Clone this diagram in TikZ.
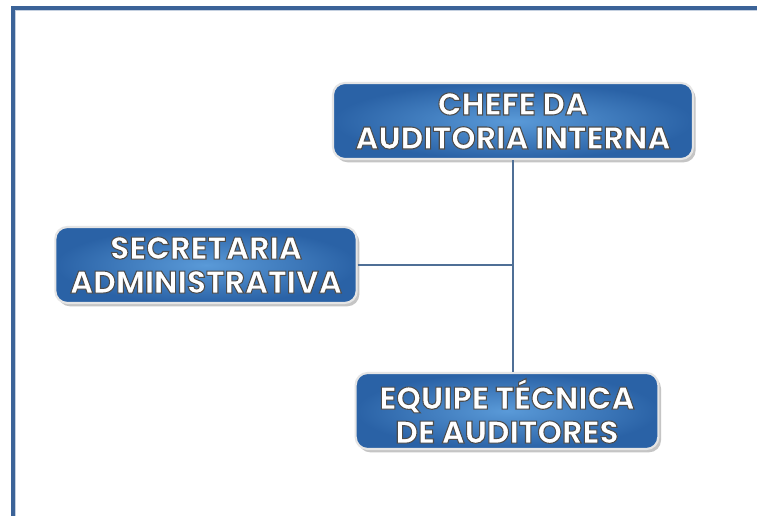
\documentclass[tikz,border=0pt]{standalone}
\usepackage{fontspec}
\setmainfont{Poppins}
\usetikzlibrary{shadows}
\definecolor{frameblue}{HTML}{3B6398}
\definecolor{boxin}{HTML}{5A9AD8}
\definecolor{boxout}{HTML}{2A62A6}
\definecolor{linecol}{HTML}{4F6F96}
\newcommand{\btxt}[1]{\special{pdf:literal direct 2 Tr 0.8 w 0.3 0.3 0.3 RG}#1\special{pdf:literal direct 0 Tr}}
\tikzset{
  orgbox/.style={draw=white!80!gray, line width=1.6pt, rounded corners=9pt,
    inner color=boxin, outer color=boxout,
    drop shadow={shadow xshift=2pt, shadow yshift=-2.5pt, fill=black!45, opacity=0.5},
    align=center, font=\fontsize{23.5pt}{25.5pt}\selectfont\bfseries, text=white,
    minimum height=57pt, inner sep=0pt},
  conn/.style={draw=linecol, line width=0.8pt}
}
\begin{document}
\begin{tikzpicture}[x=0.75pt, y=-0.75pt]
\useasboundingbox (0,0) rectangle (757,516);
\fill[white] (0,0) rectangle (757,516);
% frame (only top and left visible)
\draw[frameblue, line width=2.4pt] (13,516) -- (13,8) -- (757,8);
\draw[white!70!frameblue, line width=0.8pt] (15.8,516) -- (15.8,10.8) -- (757,10.8);

\node[orgbox, minimum width=270pt] (chefe) at (513,121) {\btxt{CHEFE DA}\\\btxt{AUDITORIA INTERNA}};
\node[orgbox, minimum width=226pt] (sec) at (206,265) {\btxt{SECRETARIA}\\\btxt{ADMINISTRATIVA}};
\node[orgbox, minimum width=227pt] (equipe) at (507,411) {\btxt{EQUIPE TÉCNICA}\\\btxt{DE AUDITORES}};

\coordinate (j) at (513,265);
\draw[conn] (chefe.south) -- (chefe.south |- equipe.north);
\draw[conn] (sec.east) -- (j);
\end{tikzpicture}
\end{document}
